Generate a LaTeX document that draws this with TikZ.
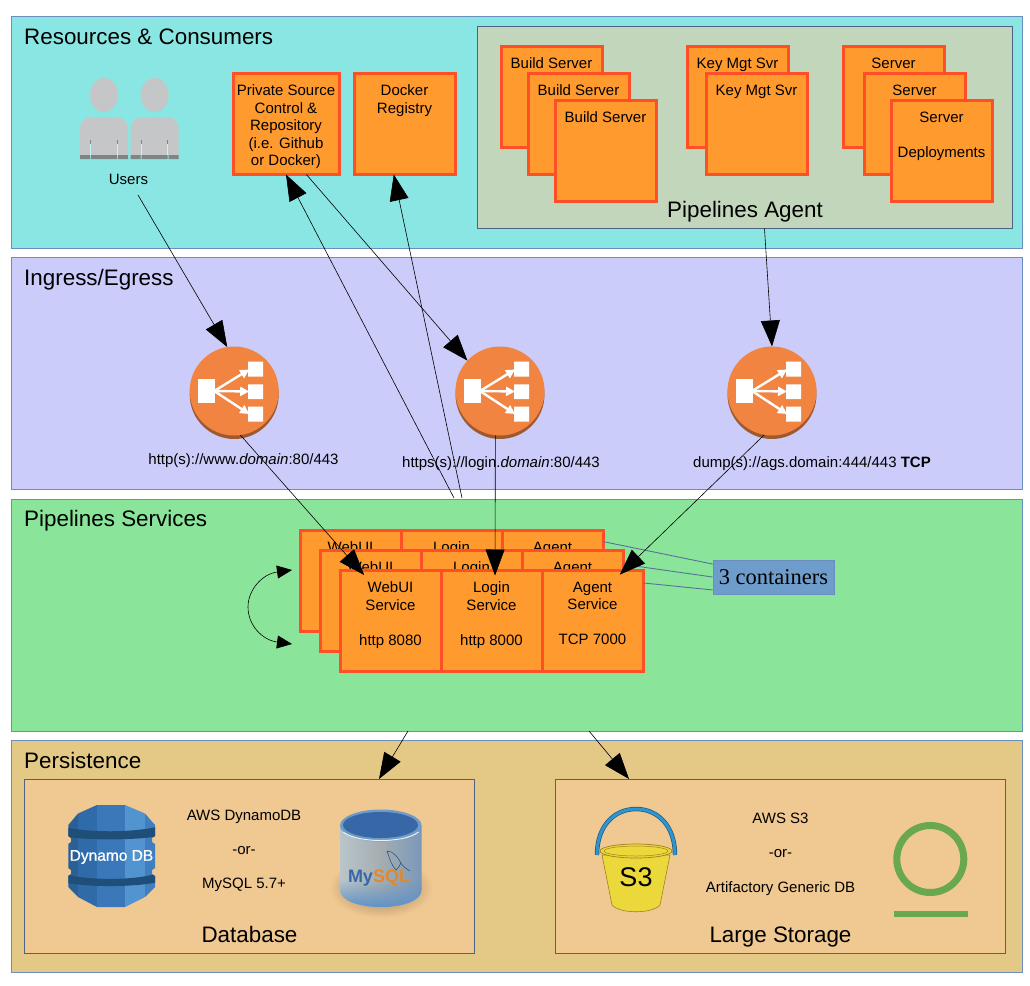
\documentclass[tikz,border=0pt]{standalone}
\usepackage{fontspec}
\setmainfont{Liberation Sans}
\newfontfamily\serifcap{Liberation Serif}
\newfontfamily\ddbfont[FakeBold=0.8]{Liberation Sans}
\usetikzlibrary{arrows.meta,shapes.geometric,fadings}
\definecolor{bandA}{HTML}{8AE6E3}
\definecolor{bandB}{HTML}{CCCCFB}
\definecolor{bandC}{HTML}{8AE59B}
\definecolor{bandD}{HTML}{E3C985}
\definecolor{edgeBlue}{HTML}{6C8EBF}
\definecolor{agentFill}{HTML}{C2D6BC}
\definecolor{boxFill}{HTML}{FF9A2E}
\definecolor{boxEdge}{HTML}{FF4F26}
\definecolor{tanFill}{HTML}{F0C891}
\definecolor{capFill}{HTML}{6F9DCB}
\definecolor{lbOrange}{HTML}{F08440}
\definecolor{lbDark}{HTML}{9E5A2E}
\definecolor{personGrey}{HTML}{C4C6C8}
\definecolor{personDark}{HTML}{7F8487}
\definecolor{ddbA}{HTML}{2A6093}
\definecolor{ddbB}{HTML}{2F6BA8}
\definecolor{ddbC}{HTML}{3A78BA}
\definecolor{ddbD}{HTML}{5294CF}
\definecolor{ddbE}{HTML}{3F7FBF}
\definecolor{ddbBand}{HTML}{1F4E79}
\definecolor{sqlBlue}{HTML}{3767A6}
\definecolor{sqlRim}{HTML}{6D9BC6}
\definecolor{sqlOrange}{HTML}{E08830}
\definecolor{sqlS1}{HTML}{5F93C8}
\definecolor{sqlS2}{HTML}{9DBBD3}
\definecolor{sqlS3}{HTML}{BCC8CE}
\definecolor{sqlS4}{HTML}{A5ADB0}
\definecolor{sqlS5}{HTML}{7F9BB8}
\definecolor{sqlS6}{HTML}{3F70A8}
\definecolor{bucketY}{HTML}{EBD93C}
\definecolor{bucketE}{HTML}{A08020}
\definecolor{handleB}{HTML}{2F94D0}
\definecolor{ringG}{HTML}{6AA84F}
\pgfdeclarehorizontalshading{sqlbody}{100bp}{
  color(0bp)=(sqlS1); color(10bp)=(sqlS2); color(22bp)=(sqlS3);
  color(50bp)=(sqlS4); color(72bp)=(sqlS5); color(100bp)=(sqlS6)}
\newcommand{\stdfont}{\fontsize{15}{17.5}\selectfont}
\newcommand{\bigfont}{\fontsize{22.4}{26}\selectfont}
\newcommand{\tb}[1]{\parbox[c][101pt][t]{101pt}{\vspace*{11.5pt}\centering #1\par}}
\newcommand{\persona}[1]{%
  \begin{scope}[shift={(#1,0)}]
    \fill[personGrey] (104,95) ellipse [x radius=14, y radius=17];
    \fill[personGrey] (80,155) -- (80,130) .. controls (80,121) and (85,117) .. (94,117) -- (114,117) .. controls (123,117) and (128,121) .. (128,130) -- (128,155) -- cycle;
    \draw[bandA!50!white, line width=.5pt] (90.5,144) -- (90.5,155) (117,144) -- (117,155);
    \draw[personDark, line width=1pt] (90.5,140) -- (90.5,143.5) (117,140) -- (117,143.5);
    \fill[personDark] (80,155) rectangle (90,159) (91,155) rectangle (117,159) (118,155) rectangle (128,159);
  \end{scope}}
\newcommand{\lbnode}[3]{%
  \fill[lbDark] (#2,#3+3.5) circle [radius=44.5];
  \node[lbcirc] (#1) at (#2,#3) {};
  \begin{scope}[shift={(#2,#3)}]
    \fill[white] (-36,-11.7) rectangle (-19.2,12.3);
    \fill[white] (14,-29.3) rectangle (29,-14.3) (14,-6.7) rectangle (29,8) (14,15.7) rectangle (29,30.7);
    \draw[lbarrow] (-20,0) -- (15,-21.5);
    \draw[lbarrow] (-20,0) -- (15,0.5);
    \draw[lbarrow] (-20,0) -- (15,23);
  \end{scope}}
\tikzset{
  band/.style={draw=edgeBlue, line width=.8pt, anchor=north west, inner sep=0pt, minimum width=1011pt, minimum height=232pt},
  title/.style={anchor=base west, inner sep=0pt, font=\bigfont},
  panel/.style={draw=#1, line width=.8pt, anchor=north west, inner sep=0pt, minimum height=174pt, minimum width=450pt, fill=tanFill},
  orangebox/.style={draw=boxEdge, fill=boxFill, line width=3pt, inner sep=0pt, outer sep=0pt, anchor=north west, minimum width=101pt, minimum height=101pt, font=\stdfont},
  lbcirc/.style={circle, fill=lbOrange, minimum size=89pt, inner sep=0pt, outer sep=0pt},
  lbarrow/.style={white, line width=2.4pt, -{Triangle[length=9pt,width=9pt]}},
  lbl/.style={inner sep=0pt, font=\stdfont, align=center, anchor=base},
  biglbl/.style={inner sep=0pt, font=\bigfont, anchor=base},
  flow/.style={draw=black, line width=.6pt, -{Triangle[length=26pt,width=19pt]}},
  link/.style={draw=edgeBlue!80!black, line width=.9pt},
}
\begin{document}
\begin{tikzpicture}[x=1pt,y=-1pt]
\useasboundingbox (0,0) rectangle (1030,985);
\fill[white] (0,0) rectangle (1030,985);
% bands
\node[band, fill=bandA] (bandRes) at (11,16) {};
\node[band, fill=bandB] (bandIng) at (11,257) {};
\node[band, fill=bandC] (bandSvc) at (11,499) {};
\node[band, fill=bandD] (bandPer) at (11,740) {};
\node[title] (tRes) at (24,44) {Resources \& Consumers};
\node[title] (tIng) at (24,285) {Ingress/Egress};
\node[title] (tSvc) at (24,526) {Pipelines Services};
\node[title] (tPer) at (24,768) {Persistence};
% agent panel
\node[draw=edgeBlue!70!black, line width=.6pt, fill=agentFill, anchor=north west, inner sep=0pt, minimum width=535pt, minimum height=202pt] (agent) at (477,26) {};
\node[biglbl] (agentT) at (745,217) {Pipelines Agent};
% users
\persona{0}
\persona{50.7}
\node[lbl] (usersL) at (128.5,184) {Users};
% top boxes
\node[orangebox, minimum width=106pt] (private) at (233,73.5) {\parbox[c][101pt][t]{106pt}{\vspace*{11.5pt}\centering Private Source\\Control \&\\Repository\\(i.e. Github\\or Docker)\par}};
\node[orangebox] (docker) at (354,73.5) {\tb{Docker\\Registry}};
\node[orangebox] (bs1) at (501,46.5) {\tb{Build Server}};
\node[orangebox] (bs2) at (528,73.5) {\tb{Build Server}};
\node[orangebox] (bs3) at (555,100.5) {\tb{Build Server}};
\node[orangebox] (km1) at (687,46.5) {\tb{Key Mgt Svr}};
\node[orangebox] (km2) at (706,73.5) {\tb{Key Mgt Svr}};
\node[orangebox] (sv1) at (843,46.5) {\tb{Server}};
\node[orangebox] (sv2) at (864,73.5) {\tb{Server}};
\node[orangebox] (sv3) at (891,100.5) {\tb{Server\\[17.5pt]Deployments}};
% load balancers
\lbnode{lbA}{234.2}{391}
\lbnode{lbB}{500}{391}
\lbnode{lbC}{772}{391}
\node[lbl] (lbAt) at (243.5,464) {http(s)://www.\textit{domain}:80/443};
\node[lbl] (lbBt) at (501,467) {https(s)://login.\textit{domain}:80/443};
\node[lbl] (lbCt) at (812,467) {dump(s)://ags.domain:444/443 \textbf{TCP}};
% services
\node[orangebox] (w1) at (300,530.5) {\tb{WebUI\\Service\\[17.5pt]http 8080}};
\node[orangebox] (l1) at (401,530.5) {\tb{Login\\Service\\[17.5pt]http 8000}};
\node[orangebox] (a1) at (502,530.5) {\tb{Agent\\Service\\[17.5pt]TCP 7000}};
\node[orangebox] (w2) at (320,550.5) {\tb{WebUI\\Service\\[17.5pt]http 8080}};
\node[orangebox] (l2) at (421,550.5) {\tb{Login\\Service\\[17.5pt]http 8000}};
\node[orangebox] (a2) at (522,550.5) {\tb{Agent\\Service\\[17.5pt]TCP 7000}};
\node[orangebox] (w3) at (340,570.5) {\tb{WebUI\\Service\\[17.5pt]http 8080}};
\node[orangebox] (l3) at (441,570.5) {\tb{Login\\Service\\[17.5pt]http 8000}};
\node[orangebox] (a3) at (542,570.5) {\tb{Agent\\Service\\[17.5pt]TCP 7000}};
% containers
\node[draw=edgeBlue, line width=.8pt, fill=capFill, inner sep=0pt, minimum width=121pt, minimum height=34pt, font=\serifcap\fontsize{22.5}{25}\selectfont] (caps) at (773.5,577) {3 containers};
\draw[link] (a1.38) -- (caps.168);
\draw[link] (a2.36) -- (caps.180);
\draw[link] (a3.37) -- (caps.192);
% persistence panels
\node[panel=edgeBlue!70!black] (dbP) at (24,779) {};
\node[panel=edgeBlue!70!black] (stP) at (555,779) {};
\node[biglbl] (dbT) at (249.5,942) {Database};
\node[biglbl] (stT) at (780.5,942) {Large Storage};
\node[lbl] (db1) at (244,820) {AWS DynamoDB};
\node[lbl] (db2) at (244,854) {-or-};
\node[lbl] (db3) at (244,888) {MySQL 5.7+};
\node[lbl] (st1) at (780.5,823) {AWS S3};
\node[lbl] (st2) at (780.5,857) {-or-};
\node[lbl] (st3) at (780.5,892) {Artifactory Generic DB};
% dynamo db icon
\begin{scope}
  \clip (97,805) -- (125,805) -- (145,813.5) -- (155,825) -- (155,836) -- (152,838) -- (152,842) -- (155,844) -- (155,868) -- (152,870) -- (152,874) -- (155,876) -- (155,887) -- (145,897) -- (125,907) -- (97,907) -- (78,897) -- (68.3,887) -- (68.3,876) -- (71,874) -- (71,870) -- (68.3,868) -- (68.3,844) -- (71,842) -- (71,838) -- (68.3,836) -- (68.3,825) -- (78,813.5) -- cycle;
  \fill[ddbA] (60,800) rectangle (78,910);
  \fill[ddbB] (78,800) rectangle (97,910);
  \fill[ddbC] (97,800) rectangle (125,910);
  \fill[ddbD] (125,800) rectangle (145,910);
  \fill[ddbE] (145,800) rectangle (160,910);
  \fill[ddbBand] (60,826) .. controls (85,833) and (135,833) .. (160,826) -- (160,836) .. controls (135,840.5) and (85,840.5) .. (60,836) -- cycle;
  \fill[ddbBand] (60,872.7) .. controls (85,881) and (135,881) .. (160,872.7) -- (160,881.7) .. controls (135,887.5) and (85,887.5) .. (60,881.7) -- cycle;
\end{scope}
\node[inner sep=0pt, text=white, font=\ddbfont\fontsize{15.5}{18}\selectfont] (ddbL) at (111.5,857) {Dynamo DB};
% mysql icon
\shade[inner color=black!40!tanFill, outer color=tanFill] (381,888) ellipse [x radius=52, y radius=30];
\shade[shading=sqlbody] (340,826) -- (340,890) .. controls (340,901) and (360,907) .. (381,907) .. controls (402,907) and (421.5,901) .. (421.5,890) -- (421.5,826) -- cycle;
\fill[sqlS1, path fading=north] (340,880) -- (340,890) .. controls (340,901) and (360,907) .. (381,907) .. controls (402,907) and (421.5,901) .. (421.5,890) -- (421.5,880) -- cycle;
\fill[sqlRim] (380.8,825.5) ellipse [x radius=40.8, y radius=16];
\draw[white!85!sqlRim, line width=1pt] (343,832) .. controls (352,838.5) and (368,840.5) .. (380.8,840.5) .. controls (394,840.5) and (410,838.5) .. (418.5,832);
\fill[sqlBlue] (380.5,825) ellipse [x radius=37.5, y radius=13];
\draw[sqlBlue!70!black, line width=.5pt] (387,851) .. controls (394,851) and (398,858) .. (401,863) .. controls (403,867) and (407,869) .. (410,871) (387,851) .. controls (390,860) and (392,866) .. (396,870) .. controls (398,868) and (400,866) .. (401,863);
\node[inner sep=0pt, anchor=base, font=\bfseries\fontsize{18}{21}\selectfont] (sqlL) at (379,882) {\textcolor{sqlBlue}{My}\textcolor{sqlOrange}{SQL}};
% bucket icon
\draw[handleB!60!black, line width=4.4pt] (597,855) .. controls (597,825) and (615,809) .. (636,809) .. controls (657,809) and (675,825) .. (675,855);
\draw[handleB, line width=3pt] (597,855) .. controls (597,825) and (615,809) .. (636,809) .. controls (657,809) and (675,825) .. (675,855);
\filldraw[draw=bucketE, fill=bucketY, line width=.6pt] (602,855) -- (612,905) .. controls (620,914) and (652,914) .. (660,905) -- (670,855) -- cycle;
\filldraw[draw=bucketE, fill=bucketY, line width=.7pt] (636,851) ellipse [x radius=36, y radius=7];
\draw[bucketE, line width=.5pt] (636,851) ellipse [x radius=32, y radius=5];
\node[inner sep=0pt, font=\fontsize{27}{30}\selectfont] (s3L) at (636,877) {S3};
% artifactory icon
\draw[ringG, line width=7pt] (930.3,859) circle [radius=33.5];
\fill[ringG] (893.7,910.7) rectangle (967.7,917.3);
% connectors
\coordinate (usersOut) at (138,195);
\coordinate (svcToPriv) at (454,498);
\coordinate (svcToDock) at (462,498);
\coordinate (svcToDb) at (408,731);
\coordinate (svcToSt) at (589,731);
\draw[flow] (usersOut) -- (lbA.99);
\draw[flow] (svcToPriv) -- (private.south);
\draw[flow] (svcToDock) -- (docker.258);
\draw[flow] (private.-68.6) -- (lbB.137);
\draw[flow] (agent.-79) -- (lbC.north);
\draw[flow, shorten >=-6pt] (lbA.-82) -- (w3.121);
\draw[flow, shorten >=-5pt] (lbB.-96) -- (l3.86);
\draw[flow, shorten >=-6pt] (lbC.-100) -- (a3.58);
\draw[flow] (svcToDb) -- (dbP.34.6);
\draw[flow] (svcToSt) -- (stP.150);
\coordinate (loopTop) at (292,570);
\coordinate (loopBot) at (292,644);
\draw[draw=black, line width=.6pt, {Triangle[length=15pt,width=13pt]}-{Triangle[length=15pt,width=13pt]}] (loopTop) .. controls (262,574) and (248,590) .. (248,607) .. controls (248,625) and (262,640) .. (loopBot);
\end{tikzpicture}
\end{document}
